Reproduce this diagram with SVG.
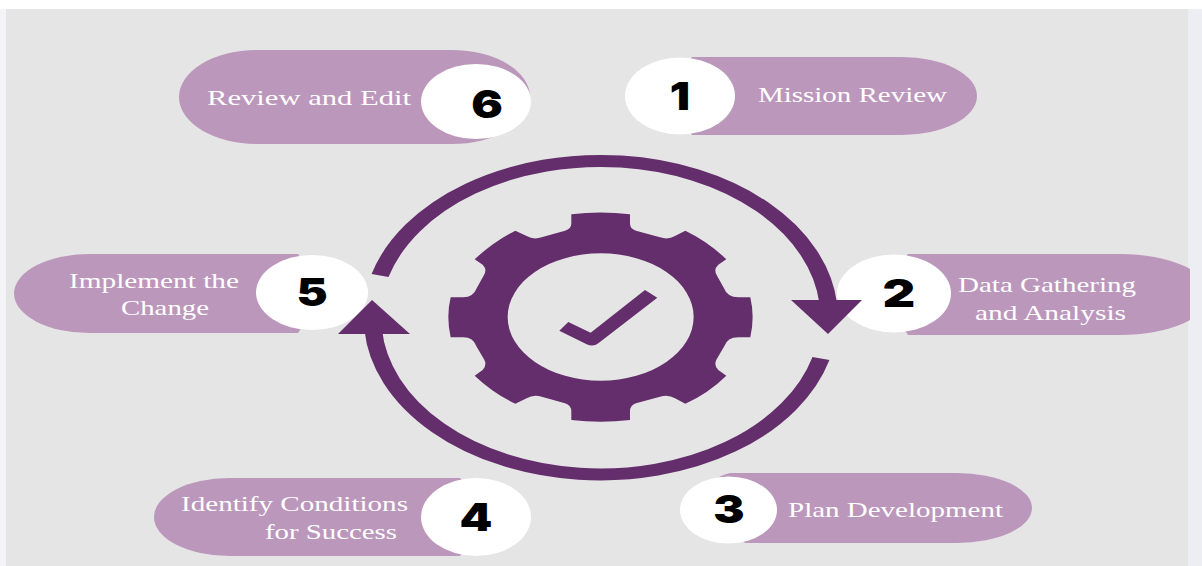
<svg xmlns="http://www.w3.org/2000/svg" width="1202" height="566" viewBox="0 0 1202 566">
<style>
.pill{fill:#bc97bc}
.disc{fill:#fff}
.t{font-family:"Liberation Serif","Times New Roman",serif;font-size:21px;fill:#fff;text-anchor:start}
.n{font-family:Inter,"Liberation Sans",sans-serif;font-weight:900;font-size:39px;fill:#000;text-anchor:middle}
.arc{fill:none;stroke:#642d6b;stroke-width:12}
.head{fill:#642d6b}
</style>
<defs><clipPath id="page"><rect x="6" y="9" width="1184" height="557"/></clipPath></defs>
<rect width="1202" height="566" fill="#fff"/>
<rect x="0" y="9" width="6" height="557" fill="#f4f4f7"/>
<rect x="1188" y="9" width="14" height="557" fill="#edeef3"/>
<rect x="6" y="9" width="1182" height="557" fill="#e5e5e5"/>
<g id="gear">
<path fill="#642d6b" fill-rule="evenodd" transform="translate(430,190) scale(0.3333)" d="M424,73 Q511,62 600,73 L600,100 Q600,118 618,122 L690,142 Q715,150 735,138 L766,122 Q835,155 889,208 L865,224 Q850,238 860,255 L882,295 Q892,322 925,322 L961,322 Q975,380 961,442 L925,442 Q892,442 882,470 L860,508 Q850,525 865,540 L889,557 Q835,610 766,641 L735,625 Q715,612 690,620 L618,640 Q600,645 600,665 L600,690 Q511,700 424,690 L424,665 Q424,645 405,640 L335,620 Q310,612 290,625 L256,641 Q190,610 134,557 L158,540 Q172,525 162,508 L140,470 Q130,442 100,442 L62,442 Q48,380 62,322 L100,322 Q130,322 140,295 L162,255 Q172,238 158,224 L134,208 Q190,155 256,122 L290,138 Q310,150 335,142 L405,122 Q424,118 424,100 Z M233,381 A279,191 0 1 0 791,381 A279,191 0 1 0 233,381 Z M388,422 L415,396 L482,428 L645,300 L682,323 L505,460 Q490,472 470,463 Z"/>
</g>
<g id="node-1">
<path class="pill" d="M692,57 H902 A75,39 0 0 1 902,135 H692 L660,96 Z"/>
<ellipse class="disc" cx="680" cy="96" rx="55" ry="38.500"/>
<text class="n" transform="translate(680,110) scale(1.15,1)">1</text>
<text class="t" x="758" y="102" textLength="189" lengthAdjust="spacingAndGlyphs">Mission Review</text>
</g>
<g id="node-2">
<path class="pill" clip-path="url(#page)" d="M908,254 H1120 A90,40.500 0 0 1 1120,335 H908 L880,294 Z"/>
<ellipse class="disc" cx="894" cy="293.500" rx="57" ry="39"/>
<text class="n" transform="translate(899,307) scale(1.3,1)">2</text>
<text class="t" x="958" y="292" textLength="178" lengthAdjust="spacingAndGlyphs">Data Gathering</text>
<text class="t" x="975" y="320" textLength="151" lengthAdjust="spacingAndGlyphs">and Analysis</text>
</g>
<g id="node-3">
<path class="pill" d="M730,473 H957 A75,35 0 0 1 957,543 H745 L700,510 Q705,478 730,473 Z"/>
<ellipse class="disc" cx="728.500" cy="510" rx="48.500" ry="33.500"/>
<text class="n" transform="translate(729,523) scale(1.2,1)">3</text>
<text class="t" x="788" y="517" textLength="215" lengthAdjust="spacingAndGlyphs">Plan Development</text>
</g>
<g id="node-4">
<path class="pill" d="M229,478 H460 L490,517 L460,556 H229 A75,39 0 0 1 229,478 Z"/>
<ellipse class="disc" cx="476" cy="517" rx="55" ry="39"/>
<text class="n" transform="translate(476,531) scale(1.2,1)">4</text>
<text class="t" x="181" y="511" textLength="227" lengthAdjust="spacingAndGlyphs">Identify Conditions</text>
<text class="t" x="265" y="539" textLength="132" lengthAdjust="spacingAndGlyphs">for Success</text>
</g>
<g id="node-5">
<path class="pill" d="M89,254 H298 L325,292 L298,333 H89 A75,39.500 0 0 1 89,254 Z"/>
<ellipse class="disc" cx="312" cy="292.500" rx="56" ry="37.500"/>
<text class="n" transform="translate(312,306) scale(1.2,1)">5</text>
<text class="t" x="69" y="288" textLength="170" lengthAdjust="spacingAndGlyphs">Implement the</text>
<text class="t" x="121" y="315" textLength="88" lengthAdjust="spacingAndGlyphs">Change</text>
</g>
<g id="node-6">
<rect class="pill" x="179" y="50" width="351" height="94" rx="78" ry="47"/>
<ellipse class="disc" cx="476" cy="101.500" rx="55" ry="37.500"/>
<text class="n" transform="translate(487,118) scale(1.2,1)">6</text>
<text class="t" x="207" y="105" textLength="204" lengthAdjust="spacingAndGlyphs">Review and Edit</text>
</g>
<g id="connectors">
<g transform="translate(600.500,317.500) scale(1.46,1)">
<path class="arc" d="M-151,-42 A156.700,156.700 0 0 1 156,-14"/>
<path class="arc" d="M151,41 A156.200,156.200 0 0 1 -155.700,12"/>
</g>
<polygon class="head" points="791,300 862,300 828,334"/>
<polygon class="head" points="338,334 410,334 372,300"/>
</g>
</svg>
